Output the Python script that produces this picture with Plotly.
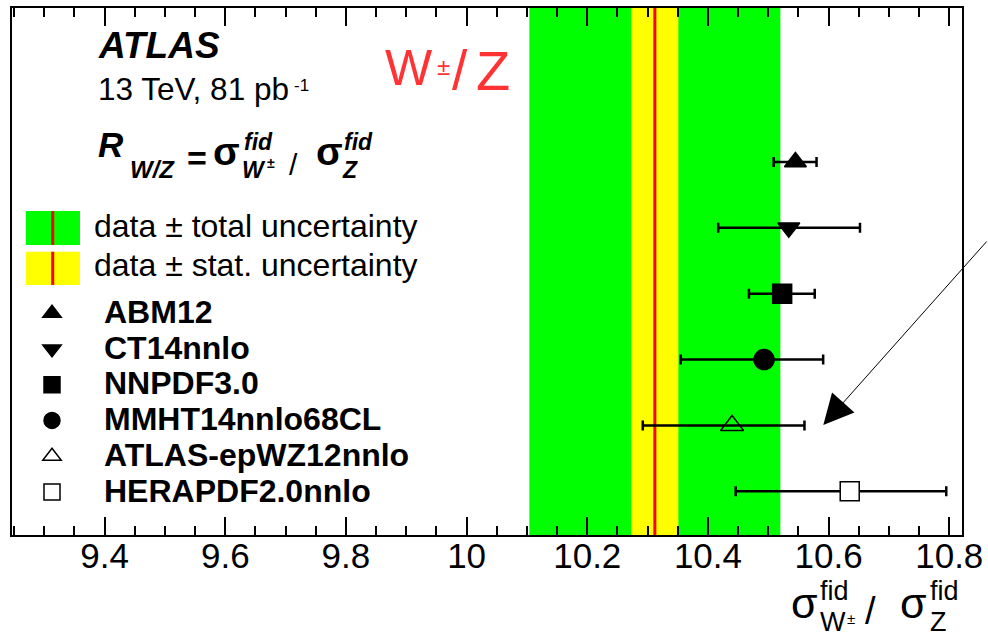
import plotly.graph_objects as go

# ---------------- data ----------------
models = ["ABM12", "CT14nnlo", "NNPDF3.0", "MMHT14nnlo68CL", "ATLAS-epWZ12nnlo", "HERAPDF2.0nnlo"]
pred_values = [10.545, 10.534, 10.523, 10.493, 10.440, 10.635]
pred_err_minus = [0.036, 0.117, 0.055, 0.138, 0.148, 0.189]
pred_err_plus = [0.035, 0.118, 0.054, 0.098, 0.120, 0.160]

data_value = 10.312
data_stat = 0.039
data_total = 0.208

x_tickvals = [9.4, 9.6, 9.8, 10.0, 10.2, 10.4, 10.6, 10.8]
x_ticktext = ["9.4", "9.6", "9.8", "10", "10.2", "10.4", "10.6", "10.8"]
x_minor_step = 0.05

# ---------------- styles ----------------
W, H = 988, 637
ML, MR, MT, MB = 12, 26, 8, 102
PW, PH = W - ML - MR, H - MT - MB
FONT = "Liberation Sans"
GREEN = "#00ff00"
YELLOW = "#ffff00"
RED = "#ff0000"
XRANGE = [9.2465, 10.8211]
TICKC = "black"

symbols = ["triangle-up", "triangle-down", "square", "circle", "triangle-up-open", "square"]
fills = ["black", "black", "black", "black", "black", "white"]
sizes = [19, 19, 19, 20, 20, 19]


def px2x(px):
    return (px - ML) / PW


def py2y(py):
    return 1 - (py - MT) / PH


fig = go.Figure()

for i, m in enumerate(models):
    fig.add_trace(go.Scatter(
        x=[pred_values[i]], y=[m], mode="markers",
        name='<span style="font-size:32px"><b>%s</b></span>' % m,
        marker=dict(symbol=symbols[i], size=sizes[i], color=fills[i],
                    line=dict(color="black", width=1.5)),
        error_x=dict(type="data", symmetric=False, array=[pred_err_plus[i]],
                     arrayminus=[pred_err_minus[i]], color="black", thickness=2.5, width=5),
        cliponaxis=False,
    ))

shapes = [
    dict(type="rect", xref="x", yref="y domain", x0=data_value - data_total, x1=data_value + data_total,
         y0=0, y1=1, fillcolor=GREEN, line=dict(width=0), layer="below"),
    dict(type="rect", xref="x", yref="y domain", x0=data_value - data_stat, x1=data_value + data_stat,
         y0=0, y1=1, fillcolor=YELLOW, line=dict(width=0), layer="below"),
    dict(type="line", xref="x", yref="y domain", x0=data_value, x1=data_value,
         y0=0, y1=1, line=dict(color=RED, width=3), layer="below"),
]

# legend swatches for the bands
for (c, y0, y1) in [(GREEN, 211, 245), (YELLOW, 251.7, 285)]:
    shapes.append(dict(type="rect", xref="paper", yref="paper", x0=px2x(25.8), x1=px2x(80),
                       y0=py2y(y1), y1=py2y(y0), fillcolor=c, line=dict(width=0)))
    shapes.append(dict(type="line", xref="paper", yref="paper", x0=px2x(52.7), x1=px2x(52.7),
                       y0=py2y(y1), y1=py2y(y0), line=dict(color=RED, width=3)))

annotations = []


def txt(s, x, baseline, size, anchor="left", color="black", pad=1):
    center = baseline - 0.3465 * size
    annotations.append(dict(text=s, x=px2x(x), y=py2y(center), xref="paper", yref="paper",
                            xanchor=anchor, yanchor="middle", showarrow=False, borderpad=pad,
                            font=dict(family=FONT, size=size, color=color)))


# header
txt("<b><i>ATLAS</i></b>", 95.5, 58.3, 37)
txt("13 TeV, 81 pb", 95.5, 100, 31.5)
txt("-1", 291.5, 91.7, 17)

# red label
RC = "rgb(255,51,51)"
txt("W", 383, 85, 50, color=RC)
txt("±", 435, 75, 24, color=RC)
txt("/", 450, 89, 55, color=RC)
txt("Z", 474, 90, 56, color=RC)

# formula R_W/Z = sigma^fid_W± / sigma^fid_Z
txt("<b><i>R</i></b>", 95.5, 156.7, 35)
txt("<b><i>W/Z</i></b>", 127.5, 178.3, 24)
txt("<b>=</b>", 196.7, 169.5, 34, anchor="center")
txt("<b>σ</b>", 211, 165, 39)
txt("<b><i>fid</i></b>", 241.5, 150, 23)
txt("<b><i>W</i></b>", 240, 178.3, 23)
txt("<b>±</b>", 265, 168, 14)
txt("/", 293, 175, 30, anchor="center")
txt("<b>σ</b>", 314, 165, 39)
txt("<b><i>fid</i></b>", 341.5, 150, 23)
txt("<b><i>Z</i></b>", 340, 178.3, 23)

# band legend text
txt("data ± total uncertainty", 92, 236.7, 32)
txt("data ± stat. uncertainty", 92, 276, 32)

# axis title
txt("σ", 789, 617.5, 43)
txt("fid", 818.5, 600, 27, pad=0)
txt("W", 819, 631.5, 27, pad=0)
txt("±", 846, 624, 15, pad=0)
txt("/", 870, 624, 38, anchor="center")
txt("σ", 898, 617.5, 43)
txt("fid", 928.5, 600, 27, pad=0)
txt("Z", 928.5, 631.5, 27, pad=0)

# arrow
annotations.append(dict(x=px2x(823.3), y=py2y(425), xref="paper", yref="paper", text="",
                        showarrow=True, ax=988 - 823.3, ay=240 - 425, axref="pixel", ayref="pixel",
                        arrowhead=2, arrowsize=6, arrowwidth=1, arrowcolor="black"))

fig.update_layout(
    width=W, height=H,
    margin=dict(l=ML, r=MR, t=MT, b=MB, autoexpand=False),
    paper_bgcolor="white", plot_bgcolor="white",
    shapes=shapes, annotations=annotations,
    showlegend=True,
    legend=dict(x=px2x(0), y=py2y(290.25), xanchor="left", yanchor="top",
                bgcolor="rgba(0,0,0,0)", borderwidth=0, itemwidth=94,
                font=dict(family=FONT, size=25.2, color="black"), traceorder="normal"),
    xaxis=dict(range=XRANGE, tickmode="array", tickvals=x_tickvals, ticktext=x_ticktext,
               ticks="inside", ticklen=18, tickwidth=2, tickcolor=TICKC,
               minor=dict(ticks="inside", ticklen=9, tickwidth=2, tickcolor=TICKC,
                          dtick=x_minor_step, tick0=x_tickvals[0]),
               showline=True, linecolor="black", linewidth=2, mirror="ticks",
               showgrid=False, zeroline=False, ticklabelstandoff=-11,
               tickfont=dict(family=FONT, size=35, color="black")),
    yaxis=dict(type="category", categoryorder="array", categoryarray=models[::-1],
               range=[-0.6635, 7.338], showticklabels=False, ticks="",
               showline=True, linecolor="black", linewidth=2, mirror=True,
               showgrid=False, zeroline=False),
)

fig.write_html("out.html")
